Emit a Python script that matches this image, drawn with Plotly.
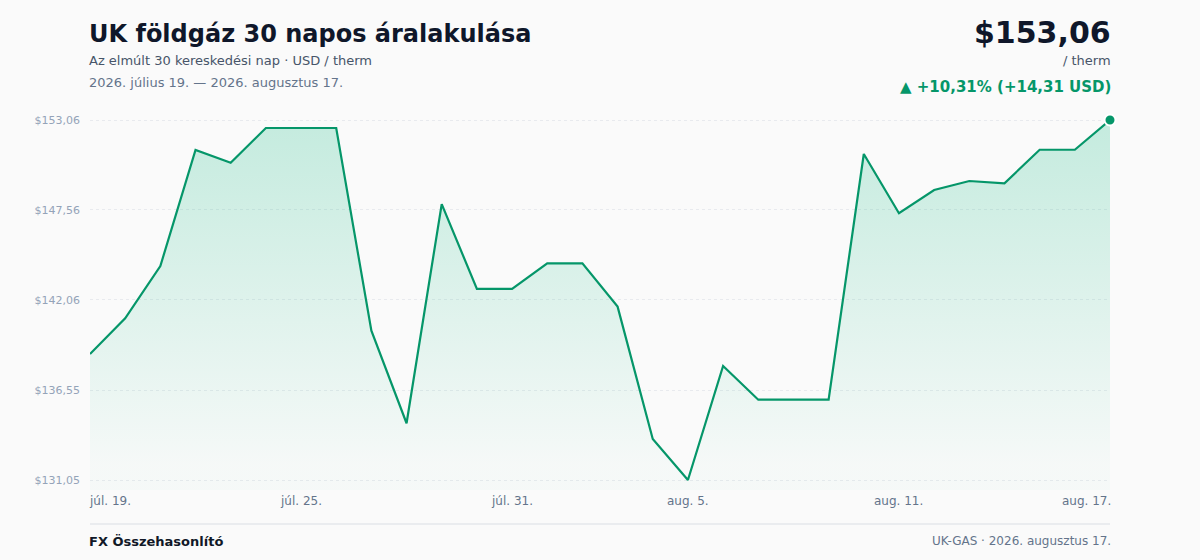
import pandas as pd
import plotly.graph_objects as go

# UK gas, last 30 days (USD / therm)
dates = pd.date_range("2026-07-19", "2026-08-17", freq="D")
prices = [138.75, 140.94, 144.13, 151.23, 150.45, 152.57, 152.57, 152.57, 140.18, 134.52,
          147.92, 142.73, 142.73, 144.30, 144.30, 141.65, 133.56, 131.05, 138.02, 135.96,
          135.96, 135.96, 150.98, 147.36, 148.78, 149.33, 149.19, 151.24, 151.24, 153.06]

y_ticks = [131.05, 136.55, 142.06, 147.56, 153.06]
y_tick_text = ["$131,05", "$136,55", "$142,06", "$147,56", "$153,06"]

x_tick_idx = [0, 6, 12, 17, 23, 29]
x_tick_text = ["júl. 19.", "júl. 25.", "júl. 31.", "aug. 5.", "aug. 11.", "aug. 17."]

GREEN = "#059669"
BG = "#fafafa"
FONT = "DejaVu Sans"

W, H = 1200, 560
M_T, M_B, M_L, M_R = 110, 70, 90, 90
PLOT_H = H - M_T - M_B
SHIFT = {"left": -3, "right": 3, "center": 0}


def py(px):
    # pixel row -> paper y
    return (H - M_B - px) / PLOT_H


def label(x, y_px, text, anchor, size, color, xref="paper"):
    return dict(x=x, y=py(y_px), xref=xref, yref="paper", xanchor=anchor, yanchor="middle",
                xshift=SHIFT[anchor], text=text, showarrow=False,
                font=dict(family=FONT, size=size, color=color))


# padding of 10px above/below the data range
span = max(prices) - min(prices)
pad = span * 10 / (PLOT_H - 20)
y_range = [min(prices) - pad, max(prices) + pad]

fig = go.Figure()

fig.add_trace(go.Scatter(
    x=dates, y=prices, mode="lines",
    line=dict(color=GREEN, width=2.2),
    fill="tozeroy",
    fillgradient=dict(
        type="vertical",
        colorscale=[[0, "rgba(16,185,129,0.02)"], [1, "rgba(16,185,129,0.23)"]],
        start=132.0, stop=max(prices),
    ),
    hoverinfo="skip", showlegend=False,
))

fig.add_trace(go.Scatter(
    x=[dates[-1]], y=[prices[-1]], mode="markers",
    marker=dict(size=11, color=GREEN, line=dict(color="white", width=2)),
    cliponaxis=False, showlegend=False, hoverinfo="skip",
))

ann = [
    label(0, 34, "<b>UK földgáz 30 napos áralakulása</b>", "left", 24, "#0f172a"),
    label(0, 61, "Az elmúlt 30 kereskedési nap · USD / therm", "left", 13, "#475569"),
    label(0, 83, "2026. július 19. — 2026. augusztus 17.", "left", 13, "#64748b"),
    label(1, 32, "<b>$153,06</b>", "right", 30, "#0f172a"),
    label(1, 61, "/ therm", "right", 13, "#475569"),
    label(1, 87, "<b>▲ +10,31% (+14,31 USD)</b>", "right", 15, GREEN),
    label(0, 541, "<b>FX Összehasonlító</b>", "left", 13, "#111827"),
    label(1, 541, "UK-GAS · 2026. augusztus 17.", "right", 12, "#64748b"),
]

# x tick labels
for k, (i, lab) in enumerate(zip(x_tick_idx, x_tick_text)):
    anchor = "left" if k == 0 else ("right" if k == len(x_tick_idx) - 1 else "center")
    ann.append(label(dates[i], 501, lab, anchor, 12, "#64748b", xref="x"))

fig.update_layout(
    width=W, height=H,
    margin=dict(l=M_L, r=M_R, t=M_T, b=M_B),
    paper_bgcolor=BG, plot_bgcolor=BG,
    font=dict(family=FONT),
    annotations=ann,
    shapes=[dict(type="line", xref="paper", yref="paper", x0=0, x1=1,
                 y0=py(524), y1=py(524), line=dict(color="#e5e7eb", width=1.5))],
    xaxis=dict(range=[dates[0], dates[-1]], showticklabels=False, showgrid=False,
               zeroline=False, showline=False, ticks=""),
    yaxis=dict(range=y_range, tickvals=y_ticks, ticktext=y_tick_text,
               tickfont=dict(family=FONT, size=11, color="#94a3b8"),
               showgrid=True, gridcolor="#e8eaee", griddash="dot", gridwidth=1,
               zeroline=False, showline=False, ticks="", ticklabelstandoff=9),
)

fig.write_html("out.html", config={"displayModeBar": False},
               post_script="document.body.style.margin='0';document.body.style.background='%s';" % BG)
